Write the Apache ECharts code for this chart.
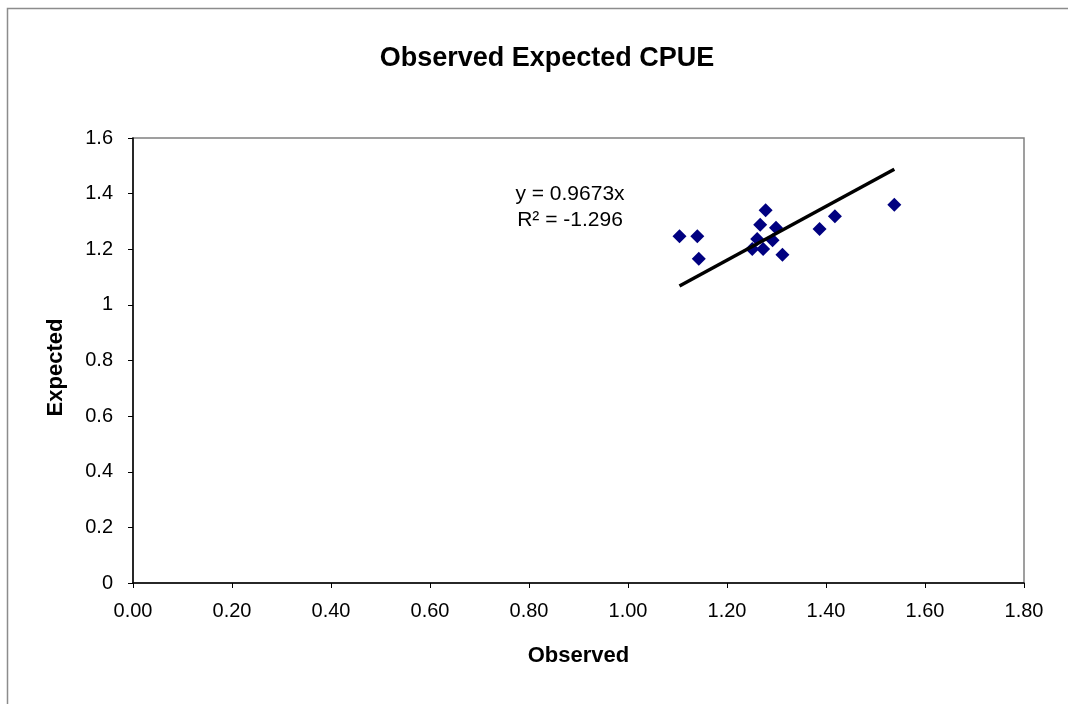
<!DOCTYPE html>
<html>
<head>
<meta charset="utf-8">
<script src="https://cdn.jsdelivr.net/npm/echarts@6/dist/echarts.min.js"></script>
<style>html,body{margin:0;padding:0;background:#fff}#c{width:1068px;height:704px}</style>
</head>
<body>
<div id="c"></div>
<script>
const observed = [1.104, 1.140, 1.143, 1.278, 1.267, 1.299, 1.261, 1.251, 1.273, 1.292, 1.312, 1.387, 1.418, 1.538];
const expected = [1.247, 1.247, 1.166, 1.340, 1.288, 1.277, 1.237, 1.201, 1.201, 1.232, 1.180, 1.273, 1.319, 1.360];
const slope = 0.9673;
const equationText = 'y = 0.9673x';
const r2Text = 'R² = -1.296';
const xTicks = [0, 0.2, 0.4, 0.6, 0.8, 1.0, 1.2, 1.4, 1.6, 1.8];
const yTicks = [0, 0.2, 0.4, 0.6, 0.8, 1.0, 1.2, 1.4, 1.6];

const points = observed.map((x, i) => [x, expected[i]]);
const xmin = Math.min(...observed), xmax = Math.max(...observed);
const trend = [[xmin, slope * xmin], [xmax, slope * xmax]];

const chart = echarts.init(document.getElementById('c'), null, {renderer: 'canvas'});
const font = '"Liberation Sans", Arial, sans-serif';
chart.setOption({
  animation: false,
  backgroundColor: '#fff',
  title: {
    text: 'Observed Expected CPUE',
    left: 542, top: 40, textAlign: 'center',
    textStyle: {fontFamily: font, fontSize: 27, fontWeight: 'bold', color: '#000'}
  },
  grid: {left: 133, top: 138, width: 891, height: 445, show: true, borderColor: '#808080', borderWidth: 1.5, containLabel: false},
  xAxis: {
    type: 'value', min: xTicks[0], max: xTicks[xTicks.length - 1], interval: 0.2,
    name: 'Observed', nameLocation: 'middle', nameGap: 62,
    nameTextStyle: {fontFamily: font, fontSize: 22, fontWeight: 'bold', color: '#000'},
    axisLine: {show: true, onZero: false, lineStyle: {color: '#000', width: 1.5}},
    axisTick: {show: true, length: 5, lineStyle: {color: '#000'}},
    axisLabel: {fontFamily: font, fontSize: 20, color: '#000', margin: 18, formatter: v => v.toFixed(2)},
    splitLine: {show: false}
  },
  yAxis: {
    type: 'value', min: yTicks[0], max: yTicks[yTicks.length - 1], interval: 0.2,
    name: 'Expected', nameLocation: 'middle', nameGap: 66, nameRotate: 90,
    nameTextStyle: {fontFamily: font, fontSize: 22, fontWeight: 'bold', color: '#000', padding: [0, 14, 0, 0]},
    axisLine: {show: true, onZero: false, lineStyle: {color: '#000', width: 1.5}},
    axisTick: {show: true, length: 5, lineStyle: {color: '#000'}},
    axisLabel: {fontFamily: font, fontSize: 20, color: '#000', margin: 20, formatter: v => String(Math.round(v * 10) / 10)},
    splitLine: {show: false}
  },
  series: [
    {
      type: 'scatter', data: points, symbol: 'diamond', symbolSize: 14,
      itemStyle: {color: '#000080', opacity: 1}, z: 3
    },
    {
      type: 'line', data: trend, symbol: 'none',
      lineStyle: {color: '#000', width: 3.5}, z: 4
    }
  ],
  graphic: [
    {type: 'rect', left: 5, top: 6, shape: {width: 1100, height: 720}, style: {fill: 'none', stroke: '#8c8c8c', lineWidth: 1.5}, z: -1},
    {type: 'text', x: 570, y: 194, style: {text: equationText, font: '21px "Liberation Sans", Arial, sans-serif', fill: '#000', textAlign: 'center', textVerticalAlign: 'middle'}},
    {type: 'text', x: 570, y: 220, style: {text: r2Text, font: '21px "Liberation Sans", Arial, sans-serif', fill: '#000', textAlign: 'center', textVerticalAlign: 'middle'}}
  ]
});
</script>
</body>
</html>
